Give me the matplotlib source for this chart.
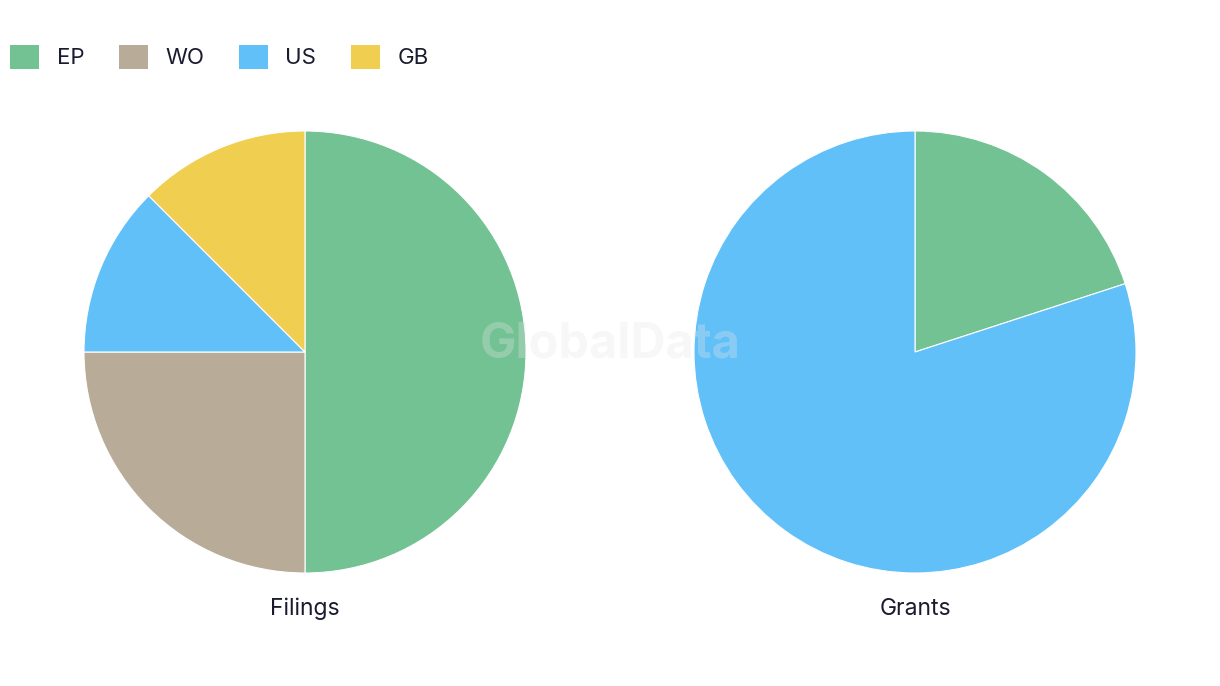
import matplotlib.pyplot as plt
from matplotlib.patches import Patch

plt.rcParams['font.family'] = ['Inter', 'DejaVu Sans']

categories = ['EP', 'WO', 'US', 'GB']
colors = ['#73C293', '#B8AB98', '#62C0F9', '#F0CE4F']
filings = [4, 2, 1, 1]
grants = [1, 0, 4, 0]
titles = ['Filings', 'Grants']
text_color = '#1B1B2F'

fig = plt.figure(figsize=(12.2, 6.86), dpi=100)

# pie axes, placed in figure fraction
w = 442 / 1220
h = 442 / 686
cy = 1 - 352 / 686
for cx, vals, title in [(305 / 1220, filings, titles[0]), (915 / 1220, grants, titles[1])]:
    ax = fig.add_axes([cx - w / 2, cy - h / 2, w, h])
    v = [x for x in vals if x > 0]
    c = [col for x, col in zip(vals, colors) if x > 0]
    ax.pie(v, colors=c, startangle=90, counterclock=False,
           wedgeprops=dict(edgecolor='white', linewidth=0.8))
    ax.set_aspect('equal')
    ax.set_xlim(-1, 1)
    ax.set_ylim(-1, 1)
    fig.text(cx, 1 - 609 / 686, title, ha='center', va='center',
             fontsize=16.5, color=text_color)

handles = [Patch(facecolor=col, label=cat) for cat, col in zip(categories, colors)]
fig.legend(handles=handles, loc='center left', bbox_to_anchor=(10 / 1220, 1 - 57 / 686),
           ncol=4, frameon=False, fontsize=16, handlelength=1.3, handleheight=1.3,
           handletextpad=0.8, columnspacing=1.55, labelcolor=text_color,
           borderpad=0, borderaxespad=0)

fig.text(0.5, 1 - 345 / 686, 'GlobalData', ha='center', va='center',
         fontsize=35, fontweight='bold', color='#E6E6E6', alpha=0.3)

fig.savefig('out.png', dpi=100)
